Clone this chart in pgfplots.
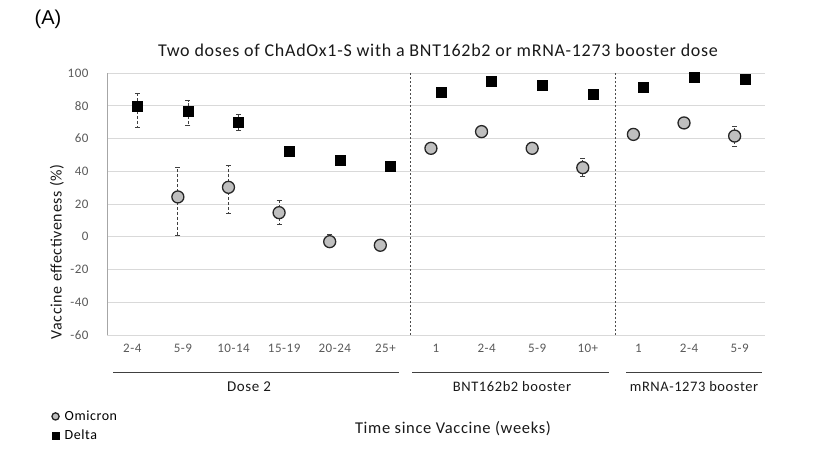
\documentclass[border=0pt]{standalone}
\usepackage{pgfplots}
\pgfplotsset{compat=1.18}
\usepackage{pgfplotstable}
\usepackage{fontspec}
\setmainfont{Carlito}
\newfontfamily\wide[LetterSpace=4]{Carlito}
\newfontfamily\arialfont{Liberation Sans}
\definecolor{ticktxt}{HTML}{595959}
\definecolor{gridc}{HTML}{D9D9D9}
\definecolor{omi}{HTML}{BFBFBF}

\pgfplotstableread{
x y ep em
0.9 24.3 18.1 23.3
1.9 30.2 13.4 15.9
2.9 14.7 7.3 7.1
3.9 -3.0 4.3 3.0
4.9 -5.2 3.7 3.0
5.9 54.0 2.0 2.0
6.9 64.2 1.5 1.5
7.9 54.0 2.0 2.0
8.9 42.2 5.5 5.5
9.9 62.5 1.0 1.0
10.9 69.5 1.5 1.5
11.9 61.5 5.7 6.5
}\omicron

\pgfplotstableread{
x y ep em
0.1 80.0 7.7 13.2
1.1 76.8 6.2 8.8
2.1 69.9 5.1 5.1
3.1 52.0 1.0 1.0
4.1 46.9 1.0 1.0
5.1 42.8 1.0 1.0
6.1 88.2 1.0 1.0
7.1 95.1 1.0 1.0
8.1 92.7 1.0 1.0
9.1 87.0 1.0 1.0
10.1 91.4 1.0 1.0
11.1 97.4 1.0 1.0
12.1 96.1 1.0 1.0
}\delta

\begin{document}
\begin{tikzpicture}[x=1pt,y=1pt]
\path[use as bounding box] (0,0) rectangle (817,452);
\begin{axis}[
  at={(107pt,117pt)}, anchor=south west,
  scale only axis, width=658pt, height=262pt,
  xmin=-0.5, xmax=12.5, ymin=-60, ymax=100,
  xtick={0,...,12},
  xticklabels={2-4,5-9,10-14,15-19,20-24,25+,1,2-4,5-9,10+,1,2-4,5-9},
  ytick={-60,-40,...,100},
  tick style={draw=none},
  axis line style={draw=none},
  ymajorgrids, major grid style={draw=gridc, line width=0.9pt},
  ticklabel style={font=\wide\fontsize{13}{15}\selectfont, text=ticktxt},
  yticklabel style={xshift=-15pt},
  xticklabel style={yshift=-6pt},
  /pgf/number format/assume math mode=true,
  clip=false,
  legend style={at={(-0.084,-0.285)}, anchor=north west, draw=none, fill=none,
    font=\wide\fontsize{14}{16}\selectfont, row sep=6pt, inner sep=0pt,
    nodes={inner sep=1pt}},
  legend cell align=left,
  legend image code/.code={\draw[#1,mark size=3.6pt] plot coordinates {(0pt,0pt)}; \path (8pt,0pt);},
]
\draw[gray!70, line width=1pt] (rel axis cs:0,0) -- (rel axis cs:0,1);
\draw[black!70, line width=0.8pt, dash pattern=on 2pt off 2pt] (axis cs:5.5,-60) -- (axis cs:5.5,100);
\draw[black!70, line width=0.8pt, dash pattern=on 2pt off 2pt] (axis cs:9.55,-60) -- (axis cs:9.55,100);
\addplot[only marks, mark=*, mark size=6pt, mark options={fill=omi, draw=black!85, line width=1.3pt},
  error bars/.cd, y dir=both, y explicit,
  error bar style={black!75, line width=0.8pt, dash pattern=on 3pt off 2pt},
  error mark options={rotate=90, mark size=2.5pt, black!75, line width=0.8pt, solid}]
  table[x=x, y=y, y error plus=ep, y error minus=em] {\omicron};
\addlegendentry{Omicron}
\addplot[only marks, mark=square*, mark size=5pt, mark options={fill=black, draw=black},
  error bars/.cd, y dir=both, y explicit,
  error bar style={black!75, line width=0.8pt, dash pattern=on 3pt off 2pt},
  error mark options={rotate=90, mark size=2.5pt, black!75, line width=0.8pt, solid}]
  table[x=x, y=y, y error plus=ep, y error minus=em] {\delta};
\addlegendentry{Delta}
\end{axis}
% group brackets
\draw[black!75, line width=1pt] (113,79.5) -- (399,79.5);
\draw[black!75, line width=1pt] (412,79.5) -- (609,79.5);
\draw[black!75, line width=1pt] (626,79.5) -- (762,79.5);
\node[font=\wide\fontsize{15}{17}\selectfont, text=black!90] at (249,65) {Dose 2};
\node[font=\wide\fontsize{14.5}{17}\selectfont, text=black!90] at (512,65) {BNT162b2 booster};
\node[font=\wide\fontsize{14.5}{17}\selectfont, text=black!90] at (694,65) {mRNA-1273 booster};
\node[font=\wide\fontsize{16.5}{19}\selectfont, text=black!90] at (453,23) {Time since Vaccine (weeks)};
\node[font=\wide\fontsize{16}{18}\selectfont, text=black!90, rotate=90] at (57,200) {Vaccine effectiveness (\%)};
\node[font=\wide\fontsize{18}{21}\selectfont, text=black!90] at (438,402) {Two doses of ChAdOx1-S with a BNT162b2 or mRNA-1273 booster dose};
\node[font=\arialfont\fontsize{20}{22}\selectfont] at (48,433) {(A)};
\end{tikzpicture}
\end{document}
